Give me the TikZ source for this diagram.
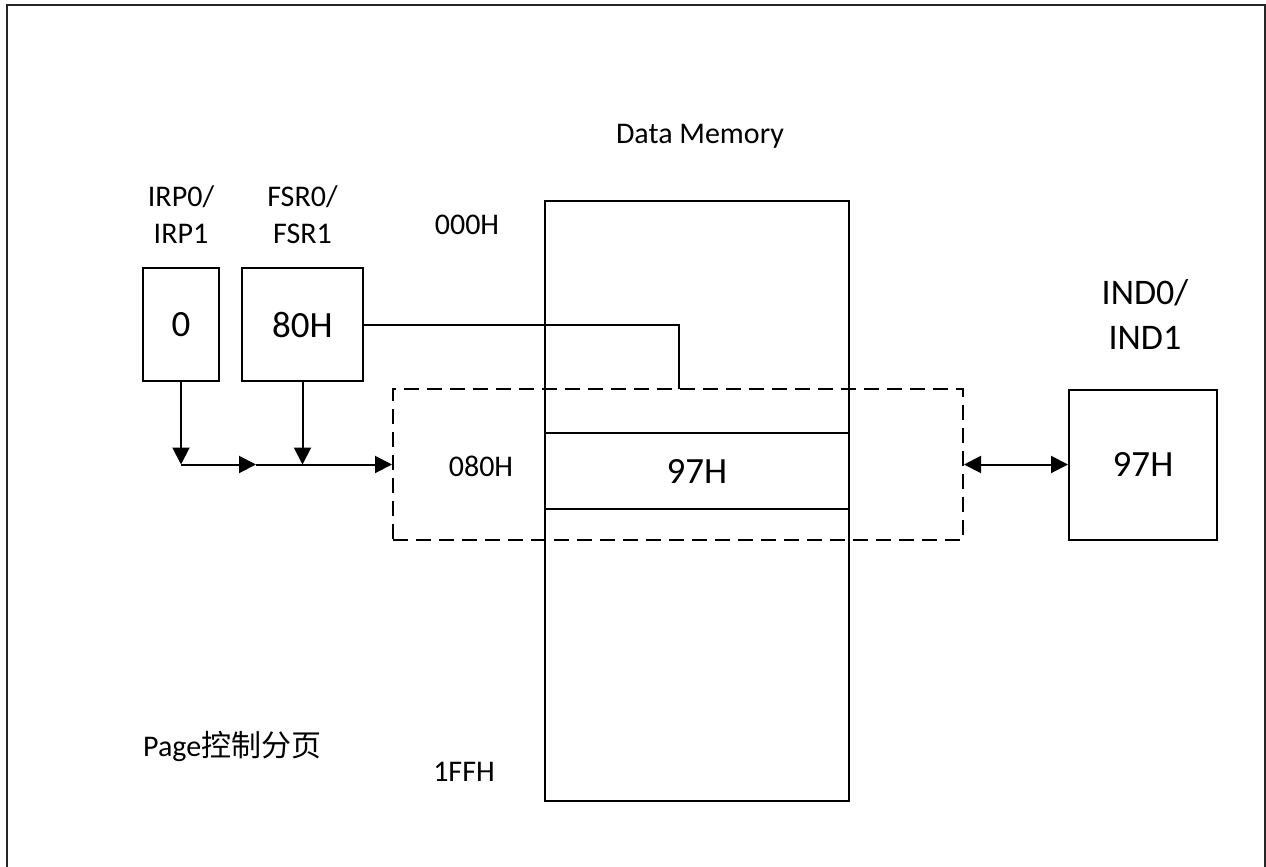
\documentclass[tikz,border=0pt]{standalone}
\usepackage{fontspec}
\setmainfont{Carlito}
\newfontfamily\cjk{Noto Sans CJK SC}
\usetikzlibrary{arrows.meta}
\tikzset{
  ln/.style={line width=2pt, black},
  box/.style={ln, draw, inner sep=0pt, font=\fontsize{37}{44}\selectfont},
  small/.style={inner sep=0pt, align=center, font=\fontsize{30}{37}\selectfont},
  big/.style={inner sep=0pt, align=center, font=\fontsize{36}{45}\selectfont},
  tip/.style={-{Triangle[length=17pt,width=17pt]}},
  dtip/.style={{Triangle[length=17pt,width=17pt]}-{Triangle[length=17pt,width=17pt]}},
  dashbox/.style={ln, draw, dash pattern=on 15pt off 8pt, inner sep=0pt}
}
\begin{document}
\begin{tikzpicture}[x=1pt,y=-1pt]
\useasboundingbox (0,0) rectangle (1266,867);
\begin{scope}
\clip (0,0) rectangle (1266,867);
\draw[line width=2pt, black!85] (6.5,5.5) rectangle (1265,900);
\end{scope}
% boxes
\node[box, minimum width=76pt, minimum height=113pt] (irp) at (181,324.5) {0};
\node[box, minimum width=121pt, minimum height=113pt] (fsr) at (302.5,324.5) {80H};
\node[box, minimum width=304pt, minimum height=600pt] (mem) at (697,501) {};
\node[box, minimum width=304pt, minimum height=76pt] (row) at (697,471) {97H};
\node[dashbox, minimum width=570pt, minimum height=151pt] (dash) at (678,464.5) {};
\node[box, minimum width=148pt, minimum height=150pt] (ind) at (1143,464.5) {97H};
% labels
\node[small] (dm) at (700,136) {Data Memory};
\node[small] (irpl) at (181,215) {IRP0/\\IRP1};
\node[small] (fsrl) at (302.5,215) {FSR0/\\FSR1};
\node[small] (a000) at (467,225) {000H};
\node[small] (a080) at (481,466) {080H};
\node[small] (a1ff) at (464,772) {1FFH};
\node[small, anchor=west] (page) at (143,746) {Page{\cjk 控制分页}};
\node[big] (indl) at (1145,314) {IND0/\\IND1};
% connectors
\coordinate (j1) at (181,464.5);
\coordinate (j2) at (302.5,464.5);
\coordinate (m1) at (256,464.5);
\coordinate (c1) at (679,389);
\draw[ln, tip] (irp.south) -- (j1);
\draw[ln, tip] (fsr.south) -- (j2);
\draw[ln, tip] (j1) -- (m1);
\draw[ln, tip] (m1) -- (dash.west);
\draw[ln] (fsr.east) -| (c1);
\draw[ln, dtip] (dash.east) -- (ind.west);
\end{tikzpicture}
\end{document}
